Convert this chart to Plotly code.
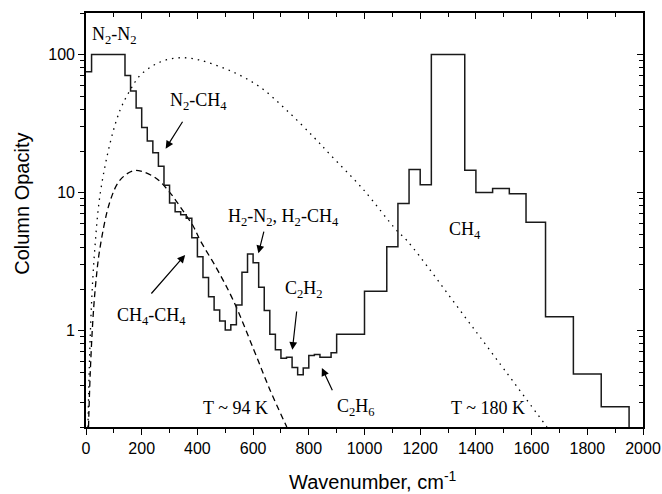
import numpy as np
import plotly.graph_objects as go

# ---------------- data ----------------
bin_edges = [0, 20, 140, 160, 180, 200, 220, 240, 260, 280, 300, 320, 340, 360, 380,
             400, 420, 440, 460, 480, 500, 520, 540, 560, 580, 600, 620, 640, 660, 680,
             700, 720, 740, 760, 780, 800, 820, 840, 880, 900, 1000, 1080, 1120, 1160,
             1200, 1240, 1360, 1400, 1460, 1520, 1580, 1650, 1750, 1850, 1950]
opacity = [75, 100,
           70.6, 54.4, 41, 29.6, 23.6, 19.4, 15.5, 11.3, 8.4, 7.25, 6.9, 6.5, 4.7,
           3.43, 2.42, 1.76, 1.41, 1.175, 1.01, 1.1, 1.53, 2.64, 3.59, 3.1, 2.06, 1.395,
           0.94, 0.725, 0.63, 0.64, 0.54, 0.478, 0.535, 0.66, 0.67,
           0.64, 0.69, 0.94, 1.93, 4.05, 8.34, 14.7, 11.4, 100, 14.5, 10, 10.7, 9.8,
           6.1, 1.26, 0.484, 0.28]
baseline = 0.1

t180_x = [7, 12, 20, 32, 50, 86, 122, 158, 194, 242, 290, 338, 386, 434, 529, 625,
          721, 817, 877, 996, 1116, 1152, 1391, 1655]
t180_y = [0.2, 0.55, 1.6, 4.0, 9.5, 22.6, 39.4, 55, 70.6, 83.4, 91.7, 94.8, 93.3,
          88.1, 74.6, 58.1, 39.4, 25.3, 18.8, 10.5, 5.3, 4.5, 1.04, 0.2]

t94_x = [9, 15, 25, 35, 50, 86, 122, 170, 206, 254, 302, 338, 386, 410, 470, 529,
         602, 661, 721]
t94_y = [0.2, 0.48, 1.22, 2.2, 3.95, 8.6, 12.3, 14.4, 14.1, 12.6, 9.95, 7.9, 5.65,
         4.5, 2.8, 1.65, 0.73, 0.37, 0.2]

x_major = list(range(0, 2001, 200))
y_major = [1, 10, 100]
y_minor = [0.2, 0.3, 0.4, 0.5, 0.6, 0.7, 0.8, 0.9, 2, 3, 4, 5, 6, 7, 8, 9,
           20, 30, 40, 50, 60, 70, 80, 90, 200]

labels = ["N<sub>2</sub>-N<sub>2</sub>", "N<sub>2</sub>-CH<sub>4</sub>",
          "H<sub>2</sub>-N<sub>2</sub>, H<sub>2</sub>-CH<sub>4</sub>",
          "C<sub>2</sub>H<sub>2</sub>", "C<sub>2</sub>H<sub>6</sub>",
          "CH<sub>4</sub>-CH<sub>4</sub>", "CH<sub>4</sub>", "T ~ 94 K", "T ~ 180 K"]
label_x = [102, 404, 708, 784, 970, 236, 1362, 535, 1442]
label_y = [137, 45.7, 6.6, 1.97, 0.275, 1.27, 5.35, 0.276, 0.276]

arrow_tail_x = [350, 640, 757, 887, 230]
arrow_tail_y = [33.4, 5.35, 1.41, 0.36, 1.81]
arrow_head_x = [286, 619, 741, 847, 356]
arrow_head_y = [20.8, 3.63, 0.725, 0.535, 3.53]

x_title = "Wavenumber, cm<sup>-1</sup>"
y_title = "Column Opacity"

# ---------------- figure ----------------
fig = go.Figure()

fig.add_trace(go.Scatter(x=t180_x, y=t180_y, mode="lines", line_shape="spline",
                         line=dict(color="black", width=1.3, dash="1.5px,5px"),
                         showlegend=False, hoverinfo="skip"))
fig.add_trace(go.Scatter(x=t94_x, y=t94_y, mode="lines", line_shape="spline",
                         line=dict(color="black", width=1.3, dash="6px,4px"),
                         showlegend=False, hoverinfo="skip"))
fig.add_trace(go.Scatter(x=bin_edges, y=opacity + [baseline], mode="lines",
                         line_shape="hv", line=dict(color="#1a1a1a", width=1.5),
                         showlegend=False))
# carrier for the mirrored (top/right) axes
fig.add_trace(go.Scatter(x=[1000], y=[1], xaxis="x2", yaxis="y2", mode="markers",
                         marker=dict(opacity=0), showlegend=False, hoverinfo="skip"))

serif = dict(family="Liberation Serif", size=18, color="black")
for t, x, y in zip(labels, label_x, label_y):
    fig.add_annotation(x=x, y=np.log10(y), text=t, showarrow=False, font=serif,
                       xanchor="center", yanchor="middle")
for tx, ty, hx, hy in zip(arrow_tail_x, arrow_tail_y, arrow_head_x, arrow_head_y):
    fig.add_annotation(x=hx, y=np.log10(hy), ax=tx, ay=np.log10(ty),
                       xref="x", yref="y", axref="x", ayref="y", text="",
                       showarrow=True, arrowhead=2, arrowsize=1.3, arrowwidth=1.2,
                       arrowcolor="black")

title_font = dict(family="Liberation Sans", size=20, color="black")
fig.add_annotation(xref="paper", yref="paper", x=0.515, y=-0.13, text=x_title,
                   showarrow=False, font=title_font, xanchor="center", yanchor="middle")
fig.add_annotation(xref="paper", yref="paper", x=-0.115, y=0.539, text=y_title,
                   showarrow=False, font=title_font, textangle=-90,
                   xanchor="center", yanchor="middle")

sans = dict(family="Liberation Sans", size=16, color="black")
yrange = [np.log10(0.2), np.log10(200)]

fig.update_layout(
    width=662, height=494, margin=dict(l=86, r=19, t=13, b=67),
    paper_bgcolor="white", plot_bgcolor="white",
    xaxis=dict(range=[0, 2000], tickmode="array", tickvals=x_major,
               ticks="outside", ticklen=6, tickwidth=1.3, tickcolor="black",
               minor=dict(ticks="outside", ticklen=4, tickwidth=1.3, dtick=100,
                          tickcolor="black"),
               showline=True, linecolor="black", linewidth=1.6, mirror=True,
               showgrid=False, zeroline=False, tickfont=sans, automargin=False),
    yaxis=dict(type="log", range=yrange, tickmode="array", tickvals=y_major,
               ticktext=[str(v) for v in y_major],
               ticks="outside", ticklen=6, tickwidth=1.3, tickcolor="black",
               minor=dict(ticks="outside", ticklen=4, tickwidth=1.3, tickmode="array",
                          tickvals=y_minor, tickcolor="black"),
               showline=True, linecolor="black", linewidth=1.6, mirror=True,
               showgrid=False, zeroline=False, tickfont=sans, automargin=False),
    xaxis2=dict(overlaying="x", side="top", anchor="y", range=[0, 2000],
                tickmode="array", tickvals=x_major, showticklabels=False,
                ticks="inside", ticklen=6, tickwidth=1.3, tickcolor="black",
                minor=dict(ticks="inside", ticklen=4, tickwidth=1.3, dtick=100,
                           tickcolor="black"),
                showline=False, showgrid=False, zeroline=False),
    yaxis2=dict(overlaying="y", side="right", anchor="x", type="log", range=yrange,
                tickmode="array", tickvals=y_major, showticklabels=False,
                ticks="inside", ticklen=6, tickwidth=1.3, tickcolor="black",
                minor=dict(ticks="inside", ticklen=4, tickwidth=1.3, tickmode="array",
                           tickvals=y_minor, tickcolor="black"),
                showline=False, showgrid=False, zeroline=False),
)

fig.write_html("out.html")
